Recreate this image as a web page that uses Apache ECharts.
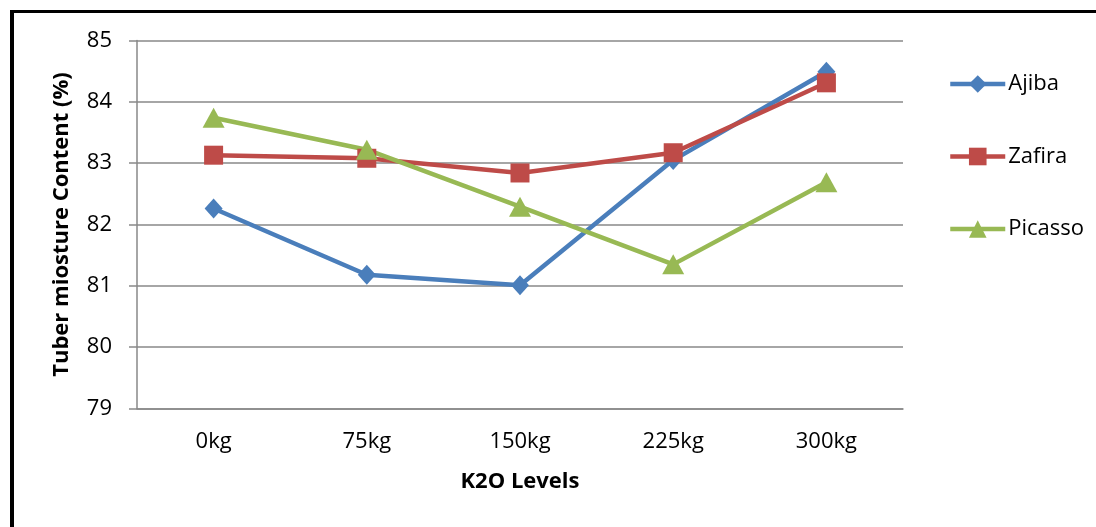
<!doctype html>
<html>
<head>
    <meta charset="utf-8">
    <title>Tuber moisture</title>
    <script src="https://cdn.jsdelivr.net/npm/echarts@6/dist/echarts.min.js"></script>
    <style>
        html, body { margin: 0; padding: 0; background: #fff; }
        #frame { position: absolute; left: 10px; top: 10px; width: 1086px; height: 517px;
                 border-left: 4px solid #000; border-top: 3px solid #000; box-sizing: border-box; }
        #chart { position: absolute; left: 0; top: 0; width: 1096px; height: 527px; }
    </style>
</head>
<body>
<div id="frame"></div>
<div id="chart"></div>
<script>
    // data
    var levels = ['0kg', '75kg', '150kg', '225kg', '300kg'];
    var ajiba = [82.26, 81.18, 81.01, 83.05, 84.49];
    var zafira = [83.13, 83.08, 82.84, 83.17, 84.31];
    var picasso = [83.74, 83.22, 82.29, 81.35, 82.69];

    var font = '"Open Sans", sans-serif';
    var gridColor = '#898989';

    var myChart = echarts.init(document.getElementById('chart'));
    var option = {
        animation: false,
        textStyle: { fontFamily: font },
        grid: { left: 137, top: 40.5, right: 193, bottom: 118.5, containLabel: false },
        legend: {
            orient: 'vertical',
            left: 948,
            top: 73,
            padding: 0,
            itemWidth: 55,
            itemHeight: 22,
            itemGap: 50.5,
            lineStyle: { width: 4.5 },
            textStyle: { fontFamily: font, fontSize: 22, color: '#000', padding: [0, 0, 0, -2] },
            data: ['Ajiba', 'Zafira', 'Picasso']
        },
        xAxis: {
            type: 'category',
            data: levels,
            name: 'K2O Levels',
            nameLocation: 'middle',
            nameGap: 62,
            nameTextStyle: { fontFamily: font, fontSize: 22, fontWeight: 'bold', color: '#000' },
            axisLine: { lineStyle: { color: gridColor, width: 1.5 } },
            axisTick: { show: false },
            axisLabel: { fontFamily: font, fontSize: 22, color: '#000', margin: 22 }
        },
        yAxis: {
            type: 'value',
            min: 79,
            max: 85,
            interval: 1,
            name: 'Tuber miosture Content (%)',
            nameLocation: 'middle',
            nameGap: 64,
            nameTextStyle: { fontFamily: font, fontSize: 22, fontWeight: 'bold', color: '#000' },
            axisLine: { show: true, lineStyle: { color: gridColor, width: 1.5 } },
            axisTick: { show: true, length: 8, lineStyle: { color: gridColor, width: 1.5 } },
            axisLabel: { fontFamily: font, fontSize: 22, color: '#000', margin: 25 },
            splitLine: { lineStyle: { color: gridColor, width: 1.5 } }
        },
        series: [
            {
                name: 'Ajiba', type: 'line', data: ajiba,
                symbol: 'diamond', symbolSize: [18, 20],
                lineStyle: { color: '#4A7EBB', width: 4.5 },
                itemStyle: { color: '#4A7EBB' }
            },
            {
                name: 'Zafira', type: 'line', data: zafira,
                symbol: 'rect', symbolSize: 19,
                lineStyle: { color: '#BE4B48', width: 4.5 },
                itemStyle: { color: '#BE4B48' }
            },
            {
                name: 'Picasso', type: 'line', data: picasso,
                symbol: 'triangle', symbolSize: [22, 20],
                lineStyle: { color: '#98B954', width: 4.5 },
                itemStyle: { color: '#98B954' }
            }
        ]
    };
    myChart.setOption(option);
</script>
</body>
</html>
